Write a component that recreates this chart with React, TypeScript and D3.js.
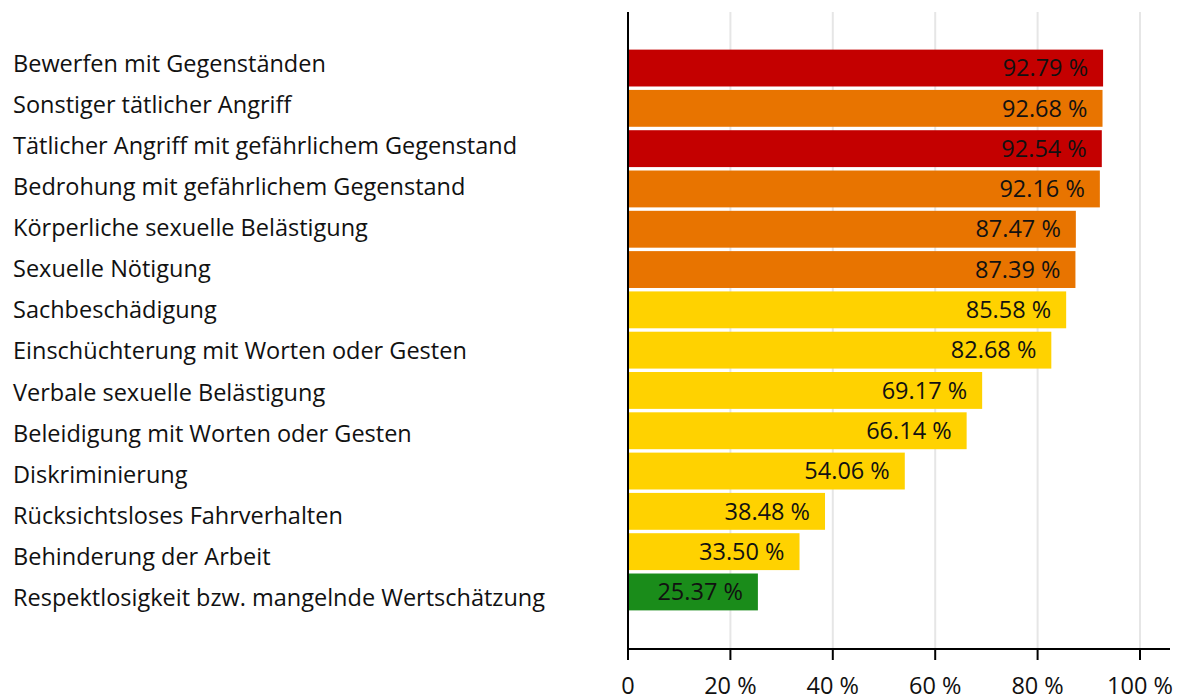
import * as d3 from 'd3';
import { useEffect, useRef } from 'react';

// Data
const categories = [
  'Bewerfen mit Gegenständen',
  'Sonstiger tätlicher Angriff',
  'Tätlicher Angriff mit gefährlichem Gegenstand',
  'Bedrohung mit gefährlichem Gegenstand',
  'Körperliche sexuelle Belästigung',
  'Sexuelle Nötigung',
  'Sachbeschädigung',
  'Einschüchterung mit Worten oder Gesten',
  'Verbale sexuelle Belästigung',
  'Beleidigung mit Worten oder Gesten',
  'Diskriminierung',
  'Rücksichtsloses Fahrverhalten',
  'Behinderung der Arbeit',
  'Respektlosigkeit bzw. mangelnde Wertschätzung',
];
const values = [92.79, 92.68, 92.54, 92.16, 87.47, 87.39, 85.58, 82.68, 69.17, 66.14, 54.06, 38.48, 33.5, 25.37];
const levels = ['red', 'orange', 'red', 'orange', 'orange', 'orange', 'yellow', 'yellow', 'yellow', 'yellow', 'yellow', 'yellow', 'yellow', 'green'];
const tickValues = [0, 20, 40, 60, 80, 100];

const levelColor: Record<string, string> = {
  red: '#c40000',
  orange: '#e87400',
  yellow: '#ffd200',
  green: '#1a8c1a',
};

const FONT = '"Open Sans", "Noto Sans", sans-serif';
const FS = '23.5px';

const App = () => {
  const ref = useRef<SVGSVGElement>(null);

  useEffect(() => {
    const svg = d3.select(ref.current);
    svg.selectAll('*').remove();

    const width = 1180, height = 695;
    const left = 628, right = 1170, top = 12, bottom = 649;

    const x = d3.scaleLinear().domain([0, 100]).range([left, 1140]);
    const y = d3.scaleBand<string>().domain(categories).range([48, 612]).paddingInner(0.085).paddingOuter(0.04);
    // category labels are laid out on their own, slightly wider spacing
    const yLabel = d3.scalePoint<string>().domain(categories).range([64, 597.5]);

    svg.attr('width', width).attr('height', height).style('display', 'block');

    // grid lines
    svg.append('g')
      .selectAll('line')
      .data(tickValues.filter(t => t > 0))
      .enter()
      .append('line')
      .attr('x1', d => x(d)).attr('x2', d => x(d))
      .attr('y1', top).attr('y2', bottom)
      .attr('stroke', '#e6e6e6')
      .attr('stroke-width', 2);

    const rows = categories.map((c, i) => ({ label: c, value: values[i], level: levels[i] }));

    // bars
    svg.append('g')
      .selectAll('rect')
      .data(rows)
      .enter()
      .append('rect')
      .attr('x', x(0))
      .attr('y', d => y(d.label)!)
      .attr('width', d => x(d.value) - x(0))
      .attr('height', y.bandwidth())
      .attr('fill', d => levelColor[d.level]);

    // value labels inside bar end
    svg.append('g')
      .selectAll('text')
      .data(rows)
      .enter()
      .append('text')
      .attr('x', d => x(d.value) - 15)
      .attr('y', d => y(d.label)! + y.bandwidth() / 2)
      .attr('dy', '0.35em')
      .attr('text-anchor', 'end')
      .style('font-family', FONT)
      .style('font-size', FS)
      .attr('fill', '#111')
      .text(d => `${d.value.toFixed(2)} %`);

    // category labels
    svg.append('g')
      .selectAll('text')
      .data(rows)
      .enter()
      .append('text')
      .attr('x', 13)
      .attr('y', d => yLabel(d.label)!)
      .attr('dy', '0.35em')
      .style('font-family', FONT)
      .style('font-size', FS)
      .attr('fill', '#111')
      .text(d => d.label);

    // y axis line
    svg.append('line')
      .attr('x1', left).attr('x2', left)
      .attr('y1', top).attr('y2', bottom)
      .attr('stroke', '#000').attr('stroke-width', 2);

    // x axis
    svg.append('line')
      .attr('x1', left - 1).attr('x2', right)
      .attr('y1', bottom).attr('y2', bottom)
      .attr('stroke', '#000').attr('stroke-width', 2);

    const ticks = svg.append('g');
    ticks.selectAll('line')
      .data(tickValues)
      .enter()
      .append('line')
      .attr('x1', d => x(d)).attr('x2', d => x(d))
      .attr('y1', bottom).attr('y2', bottom + 11)
      .attr('stroke', '#000').attr('stroke-width', 2);
    ticks.selectAll('text')
      .data(tickValues)
      .enter()
      .append('text')
      .attr('x', d => x(d))
      .attr('y', 686)
      .attr('dy', '0.35em')
      .attr('text-anchor', 'middle')
      .style('font-family', FONT)
      .style('font-size', FS)
      .attr('fill', '#111')
      .text(d => (d === 0 ? '0' : `${d} %`));
  }, []);

  return (
    <div style={{ position: 'absolute', left: 0, top: 0 }}>
      <svg ref={ref}></svg>
    </div>
  );
};

export default App;
